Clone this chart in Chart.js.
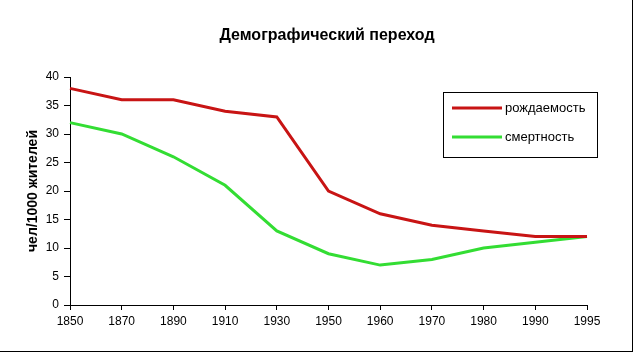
<!DOCTYPE html>
<html><head><meta charset="utf-8">
<script src="https://cdn.jsdelivr.net/npm/chart.js@4"></script>
<style>
html,body{margin:0;padding:0;background:#fff;}
#wrap{position:relative;width:632px;height:351px;border-right:1px solid #000;border-bottom:1px solid #000;overflow:hidden;}
canvas{display:block;}
</style></head>
<body><div id="wrap"><canvas id="c" width="632" height="351"></canvas></div>
<script>
const years = ['1850','1870','1890','1910','1930','1950','1960','1970','1980','1990','1995'];
const birthRate = [38,36,36,34,33,20,16,14,13,12,12];
const deathRate = [32,30,26,21,13,9,7,8,10,11,12];
const seriesNames = ['рождаемость','смертность'];
const chartTitle = 'Демографический переход';
const yAxisTitle = 'чел/1000 жителей';

const FONT = '"Liberation Sans", Arial, sans-serif';

const overlay = {
  id:'overlay',
  afterDraw(chart){
    const ctx = chart.ctx;
    ctx.save();
    ctx.fillStyle='#000';
    ctx.font = 'bold 16px ' + FONT;
    ctx.textAlign='center'; ctx.textBaseline='middle';
    ctx.fillText(chartTitle, 327, 36);
    // legend box
    const bx=443, by=92, bw=154, bh=65;
    ctx.strokeStyle='#000'; ctx.lineWidth=1;
    ctx.strokeRect(bx+0.5, by+0.5, bw, bh);
    ctx.font = '13px ' + FONT;
    ctx.textAlign='left';
    chart.data.datasets.forEach((ds,i)=>{
      const y = by + 16 + i*29;
      ctx.strokeStyle = ds.borderColor; ctx.lineWidth=3;
      ctx.beginPath(); ctx.moveTo(452,y); ctx.lineTo(502,y); ctx.stroke();
      ctx.fillStyle='#000';
      ctx.fillText(ds.label, 505, y);
    });
    ctx.restore();
  }
};

new Chart(document.getElementById('c'), {
  type:'line',
  data:{
    labels: years,
    datasets:[
      {label: seriesNames[0], data: birthRate, borderColor:'#c81414', borderWidth:3, pointRadius:0, tension:0, fill:false},
      {label: seriesNames[1], data: deathRate, borderColor:'#33dd33', borderWidth:3, pointRadius:0, tension:0, fill:false}
    ]
  },
  options:{
    responsive:false, animation:false, devicePixelRatio:1,
    layout:{padding:{left:0, top:77, right:45, bottom:0}},
    plugins:{legend:{display:false}, title:{display:false}, tooltip:{enabled:false}},
    scales:{
      x:{
        type:'category', offset:false,
        grid:{drawOnChartArea:false, drawTicks:true, tickLength:5, color:'#000'},
        border:{color:'#000', width:1},
        ticks:{color:'#000', font:{family:FONT, size:12}, padding:4, maxRotation:0, autoSkip:false},
        afterFit(s){ s.height = 46; }
      },
      y:{
        min:0, max:40,
        grid:{drawOnChartArea:false, drawTicks:true, tickLength:6, color:'#000'},
        border:{color:'#000', width:1},
        ticks:{stepSize:5, color:'#000', font:{family:FONT, size:12}, padding:5},
        title:{display:true, text:yAxisTitle, color:'#000', font:{family:FONT, size:14, weight:'bold'}, padding:{top:25,bottom:0}},
        afterFit(s){ s.width = 70; }
      }
    }
  },
  plugins:[overlay]
});
</script></body></html>
